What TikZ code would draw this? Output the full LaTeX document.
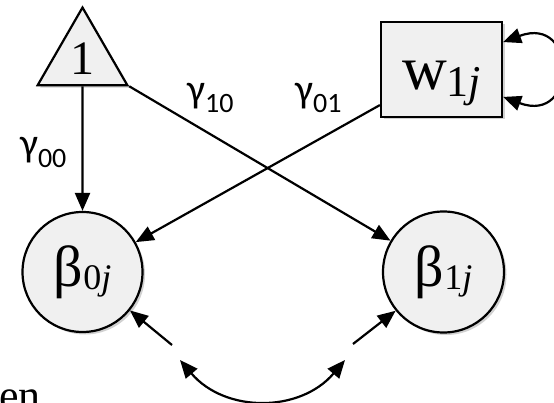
\documentclass[tikz,border=0pt]{standalone}
\usepackage{fontspec}
\setmainfont{Liberation Serif}
\newfontfamily\calfont{Carlito}
\usetikzlibrary{arrows.meta,shapes.geometric,shadows}
\begin{document}
\begin{tikzpicture}[x=1pt,y=-1pt,
  shape box/.style={draw, line width=2.2pt, fill=black!6,
    drop shadow={shadow xshift=2.5pt,shadow yshift=-2.5pt,opacity=0.18,fill=black}},
  tip/.tip={Triangle[length=18pt,width=15pt]},
  conn/.style={line width=2.2pt, -tip},
  biconn/.style={line width=2.2pt, tip-tip},
  lab/.style={inner sep=0pt, anchor=base west}
]
\useasboundingbox (0,0) rectangle (554,403);

% nodes
\node[shape box, regular polygon, regular polygon sides=3, minimum size=95.8pt,
      inner sep=0pt, text height=34pt, text depth=2.6pt] (one) at (82.5,59.3)
      {\fontsize{48}{50}\selectfont 1};
\node[shape box, rectangle, minimum width=121pt, minimum height=95pt,
      text height=45pt, text depth=4pt] (w) at (441.5,69.5)
      {\fontsize{62}{64}\selectfont w\raisebox{-7pt}{\fontsize{44}{46}\selectfont 1\textit{j}}};
\node[shape box, circle, minimum size=120pt, inner sep=0pt,
      text height=36pt, text depth=6pt] (b0) at (82.5,272)
      {\fontsize{58}{60}\selectfont β\raisebox{-3pt}{\fontsize{36}{38}\selectfont 0\textit{j}}};
\node[shape box, circle, minimum size=121pt, inner sep=0pt,
      text height=36pt, text depth=6pt] (b1) at (443.5,272)
      {\fontsize{58}{60}\selectfont β\raisebox{-3pt}{\fontsize{36}{38}\selectfont 1\textit{j}}};

% labels
\node[lab] (g00) at (20,157) {\calfont\fontsize{40}{42}\selectfont γ\raisebox{-11pt}{\fontsize{28}{30}\selectfont 00}};
\node[lab] (g10) at (187,103) {\calfont\fontsize{40}{42}\selectfont γ\raisebox{-10pt}{\fontsize{28}{30}\selectfont 10}};
\node[lab] (g01) at (295,103) {\calfont\fontsize{40}{42}\selectfont γ\raisebox{-10pt}{\fontsize{28}{30}\selectfont 01}};
\node[lab] (en) at (-1,410) {\fontsize{44}{46}\selectfont en};

% free ends of the covariance arrow
\coordinate (s1) at (172,345);
\coordinate (s2) at (353,344);
\coordinate (c1) at (180,360);
\coordinate (c2) at (345,360);

% connectors
\draw[conn] (one.south) -- (b0.north);
\draw[conn] (one.corner 3) -- (b1);
\draw[conn] (w.210) -- (b0);
\draw[biconn] (w.24) .. controls +(75,-28) and +(75,28) .. (w.-24);
\draw[conn] (s1) -- (b0.-39);
\draw[conn] (s2) -- (b1.-141);
\draw[biconn] (c1) .. controls (225,413) and (300,413) .. (c2);
\end{tikzpicture}
\end{document}
